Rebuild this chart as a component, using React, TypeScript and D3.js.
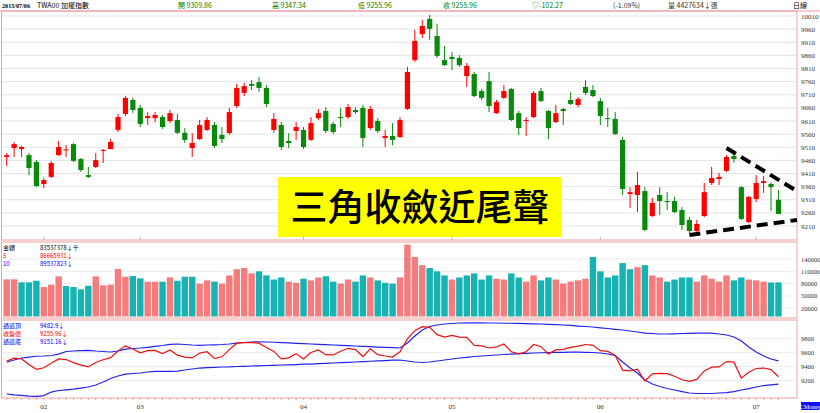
import React from 'react';
import * as d3 from 'd3';

const opens = [9473,9507,9503,9480,9454,9370,9397,9480,9500,9522,9465,9404,9435,9496,9503,9576,9637,9690,9660,9621,9621,9625,9610,9614,9565,9507,9541,9576,9595,9557,9564,9667,9717,9751,9758,9736,9576,9595,9534,9572,9576,9538,9621,9648,9599,9625,9625,9652,9660,9583,9610,9545,9553,9549,9656,9842,9941,9999,9934,9842,9854,9850,9781,9789,9724,9762,9640,9698,9732,9640,9610,9625,9724,9648,9606,9656,9690,9671,9740,9728,9686,9621,9618,9538,9332,9328,9343,9248,9328,9305,9305,9271,9233,9191,9248,9374,9389,9420,9477,9358,9225,9313,9374,9370,9309.86];
const highs = [9488,9530,9515,9488,9461,9393,9458,9534,9518,9526,9469,9435,9488,9503,9541,9637,9705,9698,9671,9644,9644,9633,9652,9637,9583,9564,9614,9625,9606,9587,9660,9751,9755,9766,9778,9747,9640,9606,9564,9606,9587,9625,9656,9663,9606,9660,9675,9663,9671,9667,9621,9576,9602,9625,9816,9957,9995,10014,9980,9896,9873,9861,9831,9797,9732,9797,9690,9747,9736,9648,9625,9724,9736,9652,9671,9660,9720,9701,9766,9747,9698,9660,9644,9549,9358,9416,9358,9317,9358,9339,9321,9282,9244,9233,9374,9435,9412,9480,9492,9362,9324,9404,9400,9377,9347.34];
const lows = [9438,9473,9473,9404,9358,9355,9393,9477,9473,9454,9416,9393,9431,9450,9503,9568,9629,9640,9587,9595,9606,9580,9602,9560,9526,9473,9538,9572,9507,9526,9557,9660,9705,9728,9721,9663,9565,9500,9507,9538,9503,9534,9614,9564,9560,9587,9618,9637,9511,9576,9564,9511,9518,9545,9652,9835,9926,9919,9850,9820,9804,9816,9740,9701,9690,9644,9637,9694,9610,9557,9553,9621,9682,9541,9602,9595,9671,9663,9709,9701,9595,9587,9557,9328,9278,9263,9191,9244,9252,9271,9259,9195,9183,9183,9244,9366,9366,9416,9450,9233,9221,9301,9336,9267,9255.96];
const closes = [9480,9522,9511,9431,9362,9385,9450,9511,9502,9458,9423,9397,9461,9500,9530,9625,9698,9652,9599,9629,9633,9587,9640,9565,9538,9526,9595,9614,9515,9541,9644,9736,9743,9744,9736,9675,9618,9511,9526,9587,9511,9602,9640,9572,9568,9621,9663,9644,9545,9656,9572,9553,9538,9614,9797,9915,9972,9961,9858,9823,9846,9823,9820,9705,9698,9667,9682,9724,9614,9583,9614,9717,9686,9583,9640,9648,9675,9694,9717,9705,9629,9618,9560,9351,9339,9366,9195,9298,9305,9301,9263,9214,9191,9218,9339,9393,9397,9473,9465,9237,9321,9374,9381,9358,9255.96];
const volumes = [90500,90500,83200,83200,87100,71800,77400,97800,74200,71800,66200,74900,97800,75900,77400,115600,96800,98500,92900,84700,84700,84700,95400,87100,96800,96800,80000,88000,85000,80000,100000,115000,118000,105000,110000,100000,90000,95000,85000,82000,92000,88000,95000,98000,85000,80000,90000,85000,100000,95000,88000,82000,80000,95000,175000,145000,125000,118000,110000,100000,90000,95000,100000,105000,90000,100000,92000,90000,105000,95000,85000,100000,88000,95000,90000,80000,85000,88000,92000,145000,110000,95000,100000,130000,115000,120000,125000,100000,95000,85000,90000,95000,95000,85000,100000,92000,85000,100000,88000,95000,90000,88000,85000,83000,83000];
const bandUpper = [9463,9496,9524,9538,9549,9553,9560,9579,9617,9624,9631,9634,9624,9617,9610,9624,9650,9660,9667,9677,9689,9703,9720,9724,9717,9710,9706,9710,9713,9717,9724,9736,9746,9753,9756,9753,9749,9744,9739,9734,9730,9724,9720,9716,9710,9706,9701,9696,9691,9687,9681,9677,9673,9667,9739,9839,9924,9974,9996,10010,10017,10024,10027,10027,10027,10024,10024,10021,10021,10019,10016,10013,10010,10006,10001,9996,9989,9981,9974,9967,9956,9946,9934,9924,9910,9896,9881,9874,9867,9867,9870,9874,9877,9881,9881,9879,9867,9853,9824,9767,9681,9610,9553,9510,9482.9];
const bandLower = [9010,8998,8991,8981,8977,8988,9038,9060,9070,9081,9095,9110,9138,9181,9231,9267,9293,9303,9310,9324,9334,9334,9334,9338,9353,9367,9381,9388,9391,9396,9398,9403,9406,9410,9413,9417,9420,9424,9427,9431,9436,9438,9443,9448,9453,9458,9463,9467,9473,9478,9484,9488,9493,9496,9481,9467,9460,9467,9481,9496,9510,9524,9534,9546,9553,9560,9567,9574,9581,9587,9591,9596,9599,9601,9604,9606,9607,9607,9606,9603,9596,9581,9560,9467,9381,9310,9210,9153,9117,9088,9067,9045,9024,9017,9017,9017,9024,9031,9045,9067,9088,9110,9131,9141,9151.16];

const priceTicks = [10010,9960,9910,9860,9810,9760,9710,9660,9610,9560,9510,9460,9410,9360,9310,9260,9210];
const volTicks = [140000,110000,80000,50000,20000];
const bollTicks = [9800,9600,9400,9200];
const monthLabels = ['02','03','04','05','06','07'];
const monthStarts = [5,18,40,60,80,101];
const trendUpper: [number, number][] = [[97,9507],[106.5,9343]];
const trendLower: [number, number][] = [[92,9176],[106.5,9233]];

const W = 820, H = 413;
const BORDER = '#f0a0a0';
const RED = '#ff0000';
const GREEN = '#0a8a0a';
const VRED = '#f47c7c';
const VTEAL = '#17b3b3';
const SERIF = '"Liberation Serif", "Noto Sans CJK TC", serif';
const CJK = '"Noto Sans CJK TC", "Liberation Serif", sans-serif';

export default function App() {
  const x = d3.scaleLinear().domain([-0.5, 106.5]).range([3, 797]);
  const step = x(1) - x(0);
  const yP = d3.scaleLinear().domain([9210, 10010]).range([226, 16]);
  const yV = d3.scaleLinear().domain([0, 140000]).range([316.5, 259]);
  const yB = d3.scaleLinear().domain([9200, 9800]).range([380.7, 338.7]);
  const n = closes.length;
  const idx = d3.range(n);
  const bodyW = 5.2;

  const lineB = (arr: number[]) =>
    d3.line<number>().x((_, i) => x(i)).y((d) => yB(d))(arr) || '';
  const trend = d3.line<[number, number]>().x((d) => x(d[0])).y((d) => yP(d[1]));

  return (
    <svg width={W} height={H} style={{ position: 'absolute', left: 0, top: 0, background: '#fff' }}
      xmlns="http://www.w3.org/2000/svg">
      <rect x={0} y={0} width={W} height={H} fill="#fff" />
      {/* header */}
      <g fontFamily={CJK} fontSize={7}>
        <text x={2} y={8} fill="#000" fontWeight="bold" fontFamily={SERIF} textLength={28} lengthAdjust="spacingAndGlyphs">2015/07/06</text>
        <text x={37} y={8} fill="#000">TWA00 加權指數</text>
        <text x={178} y={8} fill="#008000">開 9309.86</text>
        <text x={272} y={8} fill="#008000">高 9347.34</text>
        <text x={358} y={8} fill="#008000">低 9255.96</text>
        <text x={443} y={8} fill="#008000">收 9255.96</text>
        <text x={532} y={8} fill="#008000">▽-102.27</text>
        <text x={613} y={8} fill="#333">(-1.09%)</text>
        <text x={668} y={8} fill="#333">量 4427634↓張</text>
        <text x={793} y={8} fill="#000">日線</text>
      </g>
      <line x1={0} x2={W} y1={11} y2={11} stroke={BORDER} />

      {/* top panel */}
      <rect x={1.5} y={11} width={795.5} height={229} fill="none" stroke={BORDER} />
      {priceTicks.map((t) => (
        <g key={t}>
          <line x1={2} x2={797} y1={yP(t)} y2={yP(t)} stroke="#e3e3e3" />
          <text x={801} y={yP(t) + 2.5} fontFamily={SERIF} fontSize={7} fill="#333">{t}</text>
        </g>
      ))}
      {monthStarts.map((m) => (
        <line key={m} x1={x(m)} x2={x(m)} y1={237} y2={240} stroke={BORDER} />
      ))}

      {/* yellow annotation */}
      <rect x={278} y={177} width={283} height={60} fill="#ffff00" />
      <text x={420} y={221} textAnchor="middle" fontFamily={CJK} fontSize={37} fontWeight={500} fill="#000">三角收斂近尾聲</text>

      {/* candles */}
      {idx.map((i) => {
        const o = opens[i], c = closes[i], h = highs[i], l = lows[i];
        const up = c >= o;
        const col = up ? RED : GREEN;
        const top = yP(Math.max(o, c));
        const bh = Math.max(1, Math.abs(yP(o) - yP(c)));
        return (
          <g key={i}>
            <line x1={x(i)} x2={x(i)} y1={yP(h)} y2={yP(l)} stroke={col} strokeWidth={1} />
            <rect x={x(i) - bodyW / 2} y={top} width={bodyW} height={bh} fill={col} />
          </g>
        );
      })}

      {/* trend lines */}
      <path d={trend(trendUpper) || ''} stroke="#000" strokeWidth={4} strokeDasharray="11 6" fill="none" />
      <path d={trend(trendLower) || ''} stroke="#000" strokeWidth={4} strokeDasharray="11 6" fill="none" />

      {/* volume panel */}
      <rect x={1.5} y={242} width={795.5} height={76} fill="none" stroke={BORDER} />
      {volTicks.map((t) => (
        <g key={t}>
          <line x1={2} x2={797} y1={yV(t)} y2={yV(t)} stroke="#ececec" />
          <text x={801} y={yV(t) + 2.5} fontFamily={SERIF} fontSize={6.5} fill="#333">{t}</text>
        </g>
      ))}
      {idx.map((i) => {
        const up = i === 0 ? true : closes[i] >= closes[i - 1];
        return (
          <rect key={i} x={x(i) - step / 2 + 0.5} y={yV(volumes[i])} width={step - 1}
            height={yV(0) - yV(volumes[i])} fill={up ? VRED : VTEAL} />
        );
      })}
      <g fontFamily={CJK} fontSize={6}>
        <text x={3} y={250} fill="#000">金額</text>
        <text x={40} y={250} fill="#000">83537378↓千</text>
        <text x={3} y={258} fill="#ff0000">5</text>
        <text x={40} y={258} fill="#ff0000">86665931↓</text>
        <text x={3} y={266} fill="#0000ff">10</text>
        <text x={40} y={266} fill="#0000ff">89537823↓</text>
      </g>

      {/* bollinger panel */}
      <rect x={1.5} y={320} width={795.5} height={78} fill="none" stroke={BORDER} />
      {bollTicks.map((t) => (
        <g key={t}>
          <line x1={2} x2={797} y1={yB(t)} y2={yB(t)} stroke="#ececec" />
          <text x={801} y={yB(t) + 2.5} fontFamily={SERIF} fontSize={6.5} fill="#333">{t}</text>
        </g>
      ))}
      <path d={lineB(bandUpper)} stroke="#2222ee" strokeWidth={1.2} fill="none" />
      <path d={lineB(bandLower)} stroke="#2222ee" strokeWidth={1.2} fill="none" />
      <path d={lineB(closes)} stroke="#ee1111" strokeWidth={1.2} fill="none" />
      <g fontFamily={CJK} fontSize={6}>
        <text x={3} y={328} fill="#0000ff">通道頂</text>
        <text x={40} y={328} fill="#0000ff">9482.9↓</text>
        <text x={3} y={336} fill="#ff0000">收盤價</text>
        <text x={40} y={336} fill="#ff0000">9255.96↓</text>
        <text x={3} y={344} fill="#0000ff">通道底</text>
        <text x={40} y={344} fill="#0000ff">9151.16↓</text>
      </g>

      {/* x axis */}
      {idx.map((i) => (
        <line key={i} x1={x(i)} x2={x(i)} y1={398} y2={400} stroke={BORDER} />
      ))}
      {monthStarts.map((m, k) => (
        <text key={m} x={x(m)} y={409} textAnchor="middle" fontFamily={SERIF} fontSize={7} fill="#333">{monthLabels[k]}</text>
      ))}
      <rect x={801} y={402} width={19} height={8} fill="#1010ee" />
      <text x={810.5} y={408.5} textAnchor="middle" fontFamily={SERIF} fontSize={6} fill="#fff">CMoney</text>
    </svg>
  );
}
